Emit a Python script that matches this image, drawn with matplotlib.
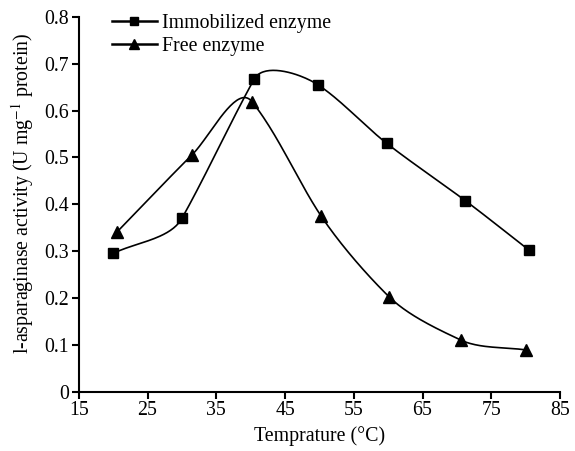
import numpy as np
from matplotlib import pyplot as plt
from matplotlib.lines import Line2D


# data
imm_temp = [20, 30, 40.5, 49.8, 59.8, 71.2, 80.5]
imm_act = [0.295, 0.370, 0.667, 0.655, 0.530, 0.408, 0.302]

free_temp = [20.5, 31.5, 40.2, 50.2, 60.1, 70.6, 80.1]
free_act = [0.340, 0.506, 0.619, 0.376, 0.203, 0.110, 0.089]

x_ticks = [15, 25, 35, 45, 55, 65, 75, 85]
y_ticks = [0, 0.1, 0.2, 0.3, 0.4, 0.5, 0.6, 0.7, 0.8]
y_labels = ['0', '0.1', '0.2', '0.3', '0.4', '0.5', '0.6', '0.7', '0.8']


def smooth(ax, xs, ys, n=40):
   # smoothed line through the points, worked out in pixel space
   # (tangent leans toward the longer neighbouring segment)
   pts = ax.transData.transform(np.column_stack([xs, ys]))
   m = len(pts)
   tang = []
   for i in range(m):
      if i == 0:
         d = pts[1] - pts[0]
      elif i == m - 1:
         d = pts[-1] - pts[-2]
      else:
         a = pts[i] - pts[i - 1]
         b = pts[i + 1] - pts[i]
         d = a * np.hypot(*a)**3 + b * np.hypot(*b)**3
      tang.append(d / np.hypot(*d))
   t = np.linspace(0, 1, n)[:, None]
   out = []
   for i in range(m - 1):
      p1, p2 = pts[i], pts[i + 1]
      L = np.hypot(*(p2 - p1)) / 3.2
      c1 = p1 + tang[i] * L
      c2 = p2 - tang[i + 1] * L
      seg = (1-t)**3*p1 + 3*(1-t)**2*t*c1 + 3*(1-t)*t**2*c2 + t**3*p2
      out.append(seg)
   out = np.vstack(out)
   back = ax.transData.inverted().transform(out)
   return back[:, 0], back[:, 1]


def main():
   plt.rcParams['font.family'] = ['Liberation Serif', 'DejaVu Serif']
   plt.rcParams['mathtext.fontset'] = 'stix'
   fs = 14.3

   fig = plt.figure(figsize=(5.75, 4.51), dpi=100)
   ax = fig.add_axes([0.137, 0.1315, 0.837, 0.831])
   ax.set_xlim(15, 85)
   ax.set_ylim(0, 0.8)

   sx, sy = smooth(ax, imm_temp, imm_act)
   ax.plot(sx, sy, color='black', lw=1.2)
   ax.plot(imm_temp, imm_act, ls='none', marker='s', ms=7, color='black')

   sx, sy = smooth(ax, free_temp, free_act)
   ax.plot(sx, sy, color='black', lw=1.2)
   ax.plot(free_temp, free_act, ls='none', marker='^', ms=8, color='black')

   ax.set_xlim(15, 85)
   ax.set_ylim(0, 0.8)
   ax.set_xticks(x_ticks)
   ax.set_yticks(y_ticks)
   ax.set_yticklabels(y_labels)
   ax.spines['top'].set_visible(False)
   ax.spines['right'].set_visible(False)
   ax.spines['left'].set_linewidth(1.5)
   ax.spines['bottom'].set_linewidth(1.5)
   ax.tick_params(direction='out', length=5, width=1.5, labelsize=fs, pad=2)

   ax.set_xlabel('Temprature (°C)', fontsize=fs, labelpad=4)
   ax.set_ylabel(r'l-asparaginase activity (U mg$^{-1}$ protein)', fontsize=fs)
   ax.yaxis.set_label_coords(-0.088, 0.53)

   handles = [
      Line2D([], [], color='black', lw=1.8, marker='s', ms=6),
      Line2D([], [], color='black', lw=1.8, marker='^', ms=7),
   ]
   ax.legend(handles, ['Immobilized enzyme', 'Free enzyme'], loc='upper left',
             bbox_to_anchor=(0.069, 1.009), frameon=False, handlelength=2.25,
             handletextpad=0.25, labelspacing=0.2, borderpad=0, borderaxespad=0,
             fontsize=fs)

   fig.savefig('out.png', dpi=100)


if __name__ == "__main__":
   main()
